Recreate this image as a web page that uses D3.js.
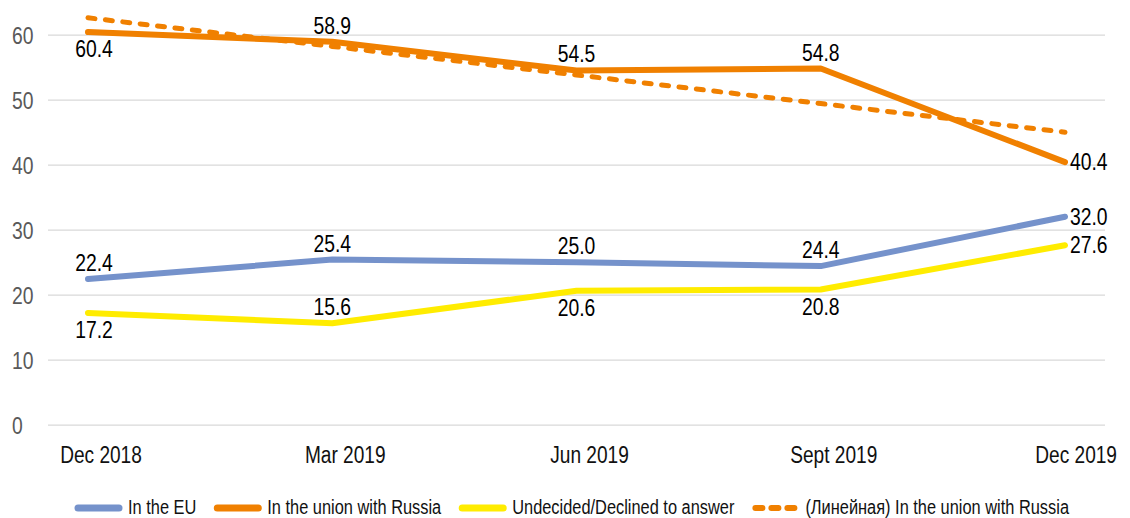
<!DOCTYPE html>
<html>
<head>
<meta charset="utf-8">
<script src="https://cdn.jsdelivr.net/npm/d3@7"></script>
<style>
  html, body { margin: 0; padding: 0; background: #fff; }
  svg { display: block; font-family: 'Liberation Sans', Arial, sans-serif; }
</style>
</head>
<body>
<svg id="chart"></svg>
<script>
'use strict';

const periods = ['Dec 2018', 'Mar 2019', 'Jun 2019', 'Sept 2019', 'Dec 2019'];
const inEU = [22.4, 25.4, 25.0, 24.4, 32.0];
const withRussia = [60.4, 58.9, 54.5, 54.8, 40.4];
const undecided = [17.2, 15.6, 20.6, 20.8, 27.6];
const russiaTrend = [62.6, 58.2, 53.8, 49.4, 45.0];
const yTicks = [0, 10, 20, 30, 40, 50, 60];
const seriesNames = ['In the EU', 'In the union with Russia', 'Undecided/Declined to answer', '(Линейная) In the union with Russia'];

(function () {
    const width = 1130;
    const height = 518;
    const left = 48, right = 1105, top = 34.7, bottom = 424.7;

    const blue = '#7592cb';
    const orange = '#f08000';
    const yellow = '#ffec00';

    // squeeze glyphs so Liberation Sans looks like the narrow font of the original
    function narrow(sel, k) {
        sel.each(function () {
            const w = this.getComputedTextLength();
            d3.select(this)
                .attr('textLength', w * k)
                .attr('lengthAdjust', 'spacingAndGlyphs');
        });
    }

    const svg = d3.select('#chart')
        .attr('width', width)
        .attr('height', height);

    const x = d3.scalePoint().domain(periods).range([88, 1065]);
    const y = d3.scaleLinear().domain([0, 60]).range([bottom, top]);

    // gridlines + y labels
    const yAxis = svg.append('g')
        .attr('transform', 'translate(' + left + ',0)')
        .call(d3.axisLeft(y).tickValues(yTicks).tickSize(-(right - left)).tickPadding(0));
    yAxis.select('.domain').remove();
    yAxis.selectAll('line').attr('stroke', '#d9d9d9').attr('stroke-width', 1.3);
    yAxis.selectAll('text')
        .attr('x', 12 - left)
        .attr('dy', '0.38em')
        .attr('text-anchor', 'start')
        .attr('fill', '#595959')
        .style('font-size', '23px')
        .style('font-family', null)
        .call(narrow, 0.84);

    // x labels (the last one is right-aligned so it stays inside the frame)
    const last = periods.length - 1;
    svg.append('g').selectAll('text')
        .data(periods)
        .enter().append('text')
        .attr('x', (d, i) => x(d) + (i === last ? 52 : 13))
        .attr('y', 463)
        .attr('text-anchor', (d, i) => i === last ? 'end' : 'middle')
        .attr('fill', '#111')
        .style('font-size', '23px')
        .text(d => d)
        .call(narrow, 0.83);

    const line = d3.line()
        .x((d, i) => x(periods[i]))
        .y(d => y(d));

    const series = [
        { name: seriesNames[0], values: inEU, color: blue, pos: ['above', 'above', 'above', 'above', 'right'] },
        { name: seriesNames[1], values: withRussia, color: orange, pos: ['below', 'above', 'above', 'above', 'right'] },
        { name: seriesNames[2], values: undecided, color: yellow, pos: ['below', 'above', 'below', 'below', 'right'] }
    ];

    // trend line
    svg.append('path')
        .attr('fill', 'none')
        .attr('stroke', orange)
        .attr('stroke-width', 5)
        .attr('stroke-linecap', 'round')
        .attr('stroke-dasharray', '7 10.5')
        .attr('d', line(russiaTrend));

    svg.append('g').selectAll('path')
        .data(series)
        .enter().append('path')
        .attr('fill', 'none')
        .attr('stroke', d => d.color)
        .attr('stroke-width', 6)
        .attr('stroke-linejoin', 'round')
        .attr('stroke-linecap', 'round')
        .attr('d', d => line(d.values));

    // data labels
    series.forEach(s => {
        svg.append('g').selectAll('text')
            .data(s.values)
            .enter().append('text')
            .attr('x', (d, i) => {
                const px = x(periods[i]);
                if (s.pos[i] === 'right') return px + 5;
                return i === 0 ? px + 6 : px;
            })
            .attr('y', (d, i) => {
                const py = y(d);
                if (s.pos[i] === 'above') return py - 8;
                if (s.pos[i] === 'below') return py + 25;
                return py + 8;
            })
            .attr('text-anchor', (d, i) => s.pos[i] === 'right' ? 'start' : 'middle')
            .attr('fill', '#000')
            .style('font-size', '23px')
            .text(d => d.toFixed(1))
            .call(narrow, 0.84);
    });

    // legend
    const legendItems = [
        { name: seriesNames[0], color: blue, dash: null },
        { name: seriesNames[1], color: orange, dash: null },
        { name: seriesNames[2], color: yellow, dash: null },
        { name: seriesNames[3], color: orange, dash: '7 9' }
    ];
    const legend = svg.append('g');
    let cx = 0;
    legendItems.forEach(item => {
        const g = legend.append('g').attr('transform', 'translate(' + cx + ',0)');
        g.append('line')
            .attr('x1', 3).attr('x2', 44)
            .attr('y1', 508).attr('y2', 508)
            .attr('stroke', item.color)
            .attr('stroke-width', item.dash ? 6 : 7)
            .attr('stroke-linecap', 'round')
            .attr('stroke-dasharray', item.dash);
        const t = g.append('text')
            .attr('x', 53)
            .attr('y', 514)
            .attr('fill', '#111')
            .style('font-size', '19.5px')
            .text(item.name)
            .call(narrow, 0.84);
        cx += 53 + +t.attr('textLength') + 18;
    });
    const legendWidth = cx - 18;
    legend.attr('transform', 'translate(' + (572 - legendWidth / 2) + ',0)');
})();
</script>
</body>
</html>
